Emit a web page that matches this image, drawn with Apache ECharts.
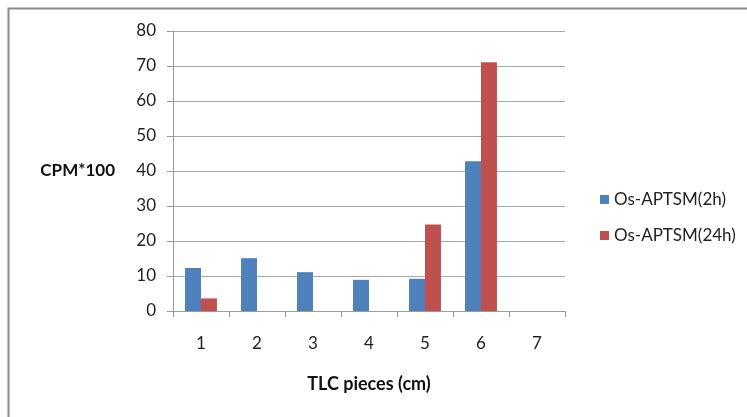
<!DOCTYPE html>
<html>
<head>
<meta charset="utf-8">
<script src="https://cdn.jsdelivr.net/npm/echarts@6/dist/echarts.min.js"></script>
<style>
  html, body { margin: 0; padding: 0; background: #fff; }
  #chart { width: 747px; height: 417px; }
</style>
</head>
<body>
<div id="chart"></div>
<script>
// TLC piece positions along the strip
const categories = ['1', '2', '3', '4', '5', '6', '7'];
// Counts per piece (CPM x 100)
const seriesNames = ['Os-APTSM(2h)', 'Os-APTSM(24h)'];
const values2h = [12.3, 15.1, 11.1, 8.9, 9.2, 42.8, null];
const values24h = [3.6, null, null, null, 24.7, 71.1, null];
const yTicks = { min: 0, max: 80, interval: 10 };

const FONT = 'Lato, "Open Sans", sans-serif';
const chart = echarts.init(document.getElementById('chart'));

chart.setOption({
  animation: false,
  backgroundColor: '#ffffff',
  graphic: [{
    type: 'rect',
    shape: { x: 8.5, y: 8.5, width: 900, height: 600 },
    style: { fill: 'none', stroke: '#8a8a8a', lineWidth: 2 },
    silent: true
  }],
  grid: { left: 173, top: 31, width: 392, height: 280, containLabel: false },
  legend: {
    orient: 'vertical',
    left: 595,
    top: 186,
    itemWidth: 9,
    itemHeight: 9,
    itemGap: 19,
    icon: 'rect',
    textStyle: { fontFamily: FONT, fontSize: 17, color: '#222' },
    data: seriesNames
  },
  xAxis: {
    type: 'category',
    data: categories,
    name: 'TLC pieces (cm)',
    nameLocation: 'middle',
    nameGap: 64,
    nameTextStyle: { fontFamily: FONT, fontSize: 18, fontWeight: 'bold', color: '#111', verticalAlign: 'top' },
    axisLine: { lineStyle: { color: '#9a9a9a', width: 1 } },
    axisTick: { show: true, length: 6, alignWithLabel: false, lineStyle: { color: '#9a9a9a' } },
    axisLabel: { fontFamily: FONT, fontSize: 17, color: '#222', margin: 24 },
    splitLine: { show: false }
  },
  yAxis: {
    type: 'value',
    min: yTicks.min,
    max: yTicks.max,
    interval: yTicks.interval,
    name: 'CPM*100',
    nameLocation: 'middle',
    nameRotate: 0,
    nameGap: 58,
    nameTextStyle: { fontFamily: FONT, fontSize: 17, fontWeight: 'bold', color: '#111', align: 'right' },
    axisLine: { show: true, lineStyle: { color: '#9a9a9a', width: 1 } },
    axisTick: { show: true, length: 6, lineStyle: { color: '#9a9a9a' } },
    axisLabel: { fontFamily: FONT, fontSize: 17, color: '#222', margin: 17 },
    splitLine: { show: true, lineStyle: { color: '#a8a8a8', width: 1 } }
  },
  series: [
    {
      name: seriesNames[0],
      type: 'bar',
      data: values2h,
      barGap: '0%',
      barCategoryGap: '43%',
      itemStyle: { color: '#4F81BD' }
    },
    {
      name: seriesNames[1],
      type: 'bar',
      data: values24h,
      barGap: '0%',
      barCategoryGap: '43%',
      itemStyle: { color: '#C0504D' }
    }
  ]
});
</script>
</body>
</html>
